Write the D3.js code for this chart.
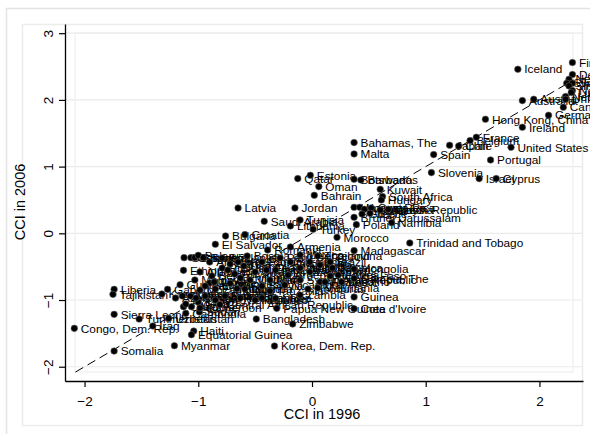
<!DOCTYPE html>
<html>
<head>
<meta charset="utf-8">
<script src="https://cdn.jsdelivr.net/npm/d3@7"></script>
<style>
  body { margin: 0; background: #fff; }
  svg { display: block; font-family: "Liberation Sans", Arial, sans-serif; }
</style>
</head>
<body>
<svg width="590" height="434"></svg>
<script>
// country names and their control of corruption index, 1996 vs 2006
var countries = ["Finland","Denmark","New Zealand","Sweden","Switzerland","Singapore","Norway","Luxembourg","Netherlands","United Kingdom",
  "Canada","Germany","Iceland","Australia","Austria","Hong Kong, China","Ireland","France","Belgium","Chile",
  "Japan","United States","Spain","Portugal","Slovenia","Israel","Cyprus","Bahamas, The","Malta","Estonia",
  "Qatar","Oman","Bahrain","Botswana","Barbados","Kuwait","South Africa","Hungary","Uruguay","Korea, Rep.",
  "Mauritius","Costa Rica","Malaysia","Czech Republic","Greece","Italy","Brunei Darussalam","Poland","Namibia","Latvia",
  "Jordan","Saudi Arabia","Tunisia","Lithuania","Turkey","Morocco","Croatia","Bulgaria","El Salvador","Trinidad and Tobago",
  "Madagascar","Mongolia","Gambia, The","Guinea","Cote d'Ivoire","Liberia","Tajikistan","Sierra Leone","Congo, Dem. Rep.","Somalia",
  "Turkmenistan","Iraq","Uzbekistan","Haiti","Equatorial Guinea","Myanmar","Bangladesh","Zimbabwe","Korea, Dem. Rep.","Papua New Guinea",
  "Niger","Ethiopia","Cambodia","Chad","Angola","Sudan","Georgia","Colombia","Ghana","Belarus",
  "Senegal","Sri Lanka","Algeria","Romania","Armenia","Mexico","Bosnia and Herzegovina","Thailand","Panama","Brazil",
  "Macedonia, FYR","Peru","Egypt, Arab Rep.","China","India","Jamaica","Lebanon","Argentina","Albania","Russian Federation",
  "Dominican Republic","Guyana","Swaziland","Benin","Burkina Faso","Iran, Islamic Rep.","Vietnam","Lesotho","Malawi","Syrian Arab Republic",
  "Mali","Philippines","Nicaragua","Indonesia","Ukraine","Moldova","Bolivia","Ecuador","Uganda","Honduras",
  "Tanzania","Mozambique","Guatemala","Venezuela, RB","Kenya","Pakistan","Azerbaijan","Kazakhstan","Gabon","Kyrgyz Republic",
  "Nigeria","Cameroon","Yemen, Rep.","Paraguay","Togo","Nepal","Zambia","Mauritania","Rwanda","Eritrea",
  "Djibouti","Libya","Lao PDR","Burundi","Central African Republic","Congo, Rep.","Guinea-Bissau","Serbia","Suriname","Fiji"];

var cci1996 = [2.29,2.29,2.26,2.24,2.29,2.26,2.29,2.28,2.23,2.23,
  2.21,2.08,1.81,1.85,1.95,1.525,1.85,1.445,1.39,1.29,
  1.21,1.75,1.07,1.57,1.05,1.47,1.62,0.37,0.37,-0.015,
  -0.125,0.06,0.02,0.37,0.43,0.60,0.62,0.61,0.37,0.42,
  0.46,0.52,0.60,0.67,0.44,0.51,0.37,0.39,0.70,-0.65,
  -0.15,-0.42,-0.105,-0.19,0.01,0.22,-0.59,-0.76,-0.85,0.86,
  0.37,0.37,0.37,0.37,0.37,-1.74,-1.75,-1.74,-2.09,-1.74,
  -1.52,-1.40,-1.26,-1.04,-1.06,-1.21,-0.49,-0.17,-0.33,-0.31,
  -0.32,-1.13,-1.11,-1.13,-1.06,-0.99,-1.125,-1.065,-1.03,-1.0,
  -0.955,-0.79,-0.90,-0.39,-0.19,-0.105,-0.57,0.05,-0.44,0.16,
  -0.65,-0.28,-0.40,-0.105,0.07,0.18,-0.02,-0.21,-0.985,-0.79,
  -0.60,-0.68,-0.50,-0.88,0.16,-0.32,-0.545,0.26,0.07,-0.105,
  -0.37,-0.63,-0.24,-0.72,-0.90,-1.03,-0.44,-0.85,-0.59,-0.035,
  -0.37,-0.985,-1.16,-1.07,-1.0,-0.765,-1.20,-1.32,-1.27,-0.85,
  -1.11,-0.985,-0.63,-0.94,-0.50,-0.44,-0.105,0.05,0.115,0.23,
  -0.74,-0.86,-0.94,-0.66,-0.81,-1.02,-1.14,-0.72,-0.19,-0.02];

var cci2006 = [2.56,2.38,2.31,2.25,2.25,2.21,2.14,2.11,2.05,2.01,
  1.89,1.77,2.46,1.99,2.01,1.71,1.59,1.44,1.39,1.31,
  1.32,1.29,1.18,1.10,0.91,0.82,0.82,1.36,1.19,0.87,
  0.82,0.70,0.57,0.81,0.80,0.66,0.55,0.50,0.39,0.39,
  0.36,0.38,0.35,0.36,0.29,0.30,0.24,0.13,0.16,0.38,
  0.38,0.18,0.20,0.11,0.06,-0.06,-0.02,-0.04,-0.165,-0.145,
  -0.26,-0.535,-0.675,-0.955,-1.13,-0.84,-0.915,-1.215,-1.425,-1.765,
  -1.285,-1.39,-1.275,-1.465,-1.52,-1.685,-1.285,-1.36,-1.69,-1.125,
  -0.975,-0.555,-1.20,-1.10,-1.10,-1.18,-0.365,-0.365,-0.365,-0.33,
  -0.365,-0.37,-0.43,-0.25,-0.205,-0.325,-0.34,-0.34,-0.43,-0.43,
  -0.43,-0.37,-0.55,-0.52,-0.475,-0.52,-0.58,-0.625,-0.58,-0.52,
  -0.49,-0.61,-0.58,-0.64,-0.64,-0.55,-0.70,-0.73,-0.73,-0.70,
  -0.70,-0.67,-0.775,-0.75,-0.745,-0.70,-0.79,-0.835,-0.835,-0.835,
  -0.865,-0.85,-0.77,-0.94,-1.03,-0.94,-0.97,-0.91,-0.84,-1.0,
  -1.06,-1.12,-0.97,-0.94,-1.0,-0.97,-0.925,-0.82,-0.73,-0.625,
  -0.55,-0.73,-0.79,-0.83,-1.07,-0.97,-0.94,-0.46,-0.43,-0.43];

var xTicks = [-2, -1, 0, 1, 2];
var yTicks = [-2, -1, 0, 1, 2, 3];
var refLineX = [-2.08, 2.30];   // 45 degree line, y = x

var data = countries.map(function(c, i) { return {name: c, x: cci1996[i], y: cci2006[i]}; });

var svg = d3.select("svg");

// frames
svg.append("rect").attr("x", 6.5).attr("y", 8.5).attr("width", 620).attr("height", 460)
  .attr("fill", "none").attr("stroke", "#e4e4e4").attr("stroke-width", 1.5);
svg.append("rect").attr("x", 22.5).attr("y", 24.5).attr("width", 560).attr("height", 401)
  .attr("fill", "none").attr("stroke", "#ececec").attr("stroke-width", 1.5);

var x = d3.scaleLinear().domain([-2.172, 2.383]).range([65, 583]);
var y = d3.scaleLinear().domain([-2.214, 3.138]).range([381, 24]);

// gridlines
svg.append("g").selectAll("line").data(yTicks).enter().append("line")
  .attr("x1", 65).attr("x2", 582)
  .attr("y1", function(d) { return y(d); }).attr("y2", function(d) { return y(d); })
  .attr("stroke", "#eaeaea").attr("stroke-width", 1.2);

// inner plot region border
svg.append("rect").attr("x", 75).attr("y", 33).attr("width", 498).attr("height", 339)
  .attr("fill", "none").attr("stroke", "#eeeeee").attr("stroke-width", 1.2);

// axes
var fmt = d3.format("d");
var xAxis = svg.append("g").attr("transform", "translate(0,381)")
  .call(d3.axisBottom(x).tickValues(xTicks).tickFormat(fmt).tickSize(6).tickSizeOuter(0));
xAxis.select(".domain").attr("stroke", "#000").attr("stroke-width", 1.3);
xAxis.selectAll(".tick line").attr("stroke", "#000").attr("stroke-width", 1.2);
xAxis.selectAll(".tick text").attr("y", 25).attr("dy", 0)
  .style("font-size", "13.5px").style("font-family", "Liberation Sans, Arial, sans-serif").attr("fill", "#000");

var yAxis = svg.append("g").attr("transform", "translate(65,0)")
  .call(d3.axisLeft(y).tickValues(yTicks).tickFormat(fmt).tickSize(6).tickSizeOuter(0));
yAxis.select(".domain").attr("stroke", "#000").attr("stroke-width", 1.3);
yAxis.selectAll(".tick line").attr("stroke", "#000").attr("stroke-width", 1.2);
yAxis.selectAll(".tick text")
  .attr("x", 0).attr("y", -12).attr("dy", 0)
  .attr("text-anchor", "middle")
  .attr("transform", "rotate(-90)")
  .style("font-size", "13.5px").style("font-family", "Liberation Sans, Arial, sans-serif").attr("fill", "#000");

// axis titles
svg.append("text").attr("x", 322).attr("y", 419).attr("text-anchor", "middle")
  .style("font-size", "14.5px").text("CCI in 1996");
svg.append("text").attr("transform", "translate(25,202) rotate(-90)").attr("text-anchor", "middle")
  .style("font-size", "14.5px").text("CCI in 2006");

// 45 degree line
svg.append("path")
  .datum(refLineX)
  .attr("d", d3.line().x(function(d) { return x(d); }).y(function(d) { return y(d); }))
  .attr("fill", "none").attr("stroke", "#000").attr("stroke-width", 1)
  .attr("stroke-dasharray", "9,5");

// labels, then markers
svg.append("g").selectAll("text").data(data).enter().append("text")
  .attr("x", function(d) { return x(d.x) + 6.5; })
  .attr("y", function(d) { return y(d.y); })
  .attr("dy", "0.36em")
  .style("font-size", "11.8px")
  .attr("fill", "#000")
  .text(function(d) { return d.name; });

svg.append("g").selectAll("circle").data(data).enter().append("circle")
  .attr("cx", function(d) { return x(d.x); })
  .attr("cy", function(d) { return y(d.y); })
  .attr("r", 3.3)
  .attr("fill", "#000")
  .attr("stroke", "#666")
  .attr("stroke-width", 0.6);
</script>
</body>
</html>
